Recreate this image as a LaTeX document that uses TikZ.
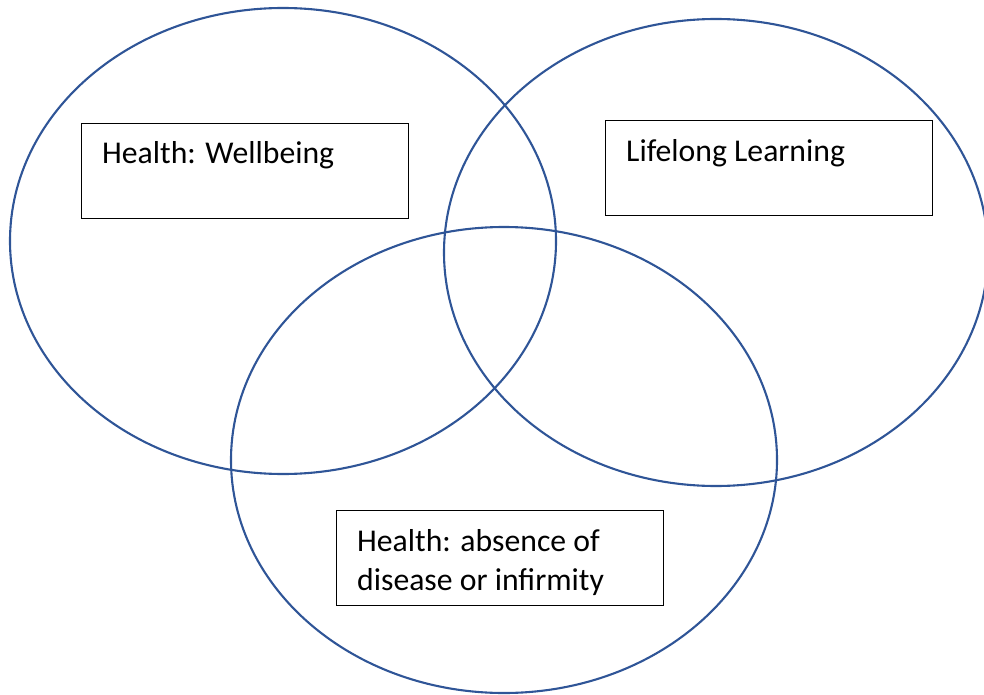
\documentclass[tikz,border=0pt]{standalone}
\usepackage{fontspec}
\setmainfont{Carlito}
\definecolor{ringblue}{HTML}{2F5597}
\begin{document}
\begin{tikzpicture}[x=1pt,y=-1pt,
  ring/.style={draw=ringblue,line width=2.1pt},
  labelbox/.style={draw=black,line width=1pt,rectangle,inner sep=0pt,anchor=north west},
  caption/.style={anchor=base west,inner sep=0pt,font=\fontsize{31.7}{39}\selectfont,align=left}]
\useasboundingbox (0,0) rectangle (984,695);
% the three overlapping circles
\draw[ring] (283,241) ellipse [x radius=273,y radius=233];
\draw[ring] (716,252.5) ellipse [x radius=272,y radius=233.5];
\draw[ring] (504,460) ellipse [x radius=273,y radius=233];
% text boxes
\node[labelbox,minimum width=327pt,minimum height=95pt] (wellbox) at (81,123) {};
\node[labelbox,minimum width=327pt,minimum height=95pt] (learnbox) at (605,120) {};
\node[labelbox,minimum width=327pt,minimum height=95pt] (diseasebox) at (336,510) {};
\node[caption] (well) at (102,164) {Health: Wellbeing};
\node[caption] (learn) at (626,162) {Lifelong Learning};
\node[caption] (disease1) at (357,551) {Health: absence of};
\node[caption] (disease2) at (357,590) {disease or infirmity};
\end{tikzpicture}
\end{document}
